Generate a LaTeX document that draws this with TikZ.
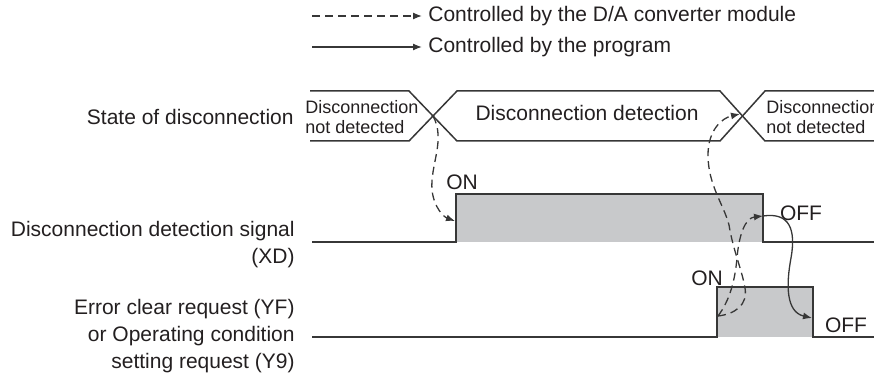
\documentclass[tikz,border=0pt]{standalone}
\usepackage{fontspec}
\setmainfont{Liberation Sans}
\usetikzlibrary{arrows.meta}
\definecolor{tcink}{RGB}{35,31,32}
\definecolor{tcline}{RGB}{55,55,55}
\definecolor{tcfill}{RGB}{200,201,203}

\begin{document}
\begin{tikzpicture}[x=.5pt,y=-.5pt,>={Latex[length=4.5pt,width=3.5pt]},
    font=\fontsize{10.5}{13.5}\selectfont,text=tcink,
    wave/.style={draw=tcline,line width=.75pt},
    bylink/.style={->,tcline,line width=.65pt,dash pattern=on 4pt off 2.5pt},
    byprog/.style={->,tcline,line width=.65pt},
    txt/.style={inner sep=0pt},
    small/.style={font=\fontsize{9}{10}\selectfont,align=left,anchor=west,inner sep=0pt}]
  \useasboundingbox (0,0) rectangle (874,374);
  % legend
  \coordinate (lgdA) at (312,16);
  \coordinate (lgdB) at (312,47);
  \node[txt,anchor=west] (lgdatext) at (428,16) {Controlled by the D/A converter module};
  \node[txt,anchor=west] (lgdbtext) at (428,47) {Controlled by the program};
  \draw[bylink,shorten >=3pt] (lgdA) -- (lgdatext.west);
  \draw[byprog,shorten >=3pt] (lgdB) -- (lgdbtext.west);
  % state of disconnection
  \draw[wave] (310,91) -- (409,91) -- (457,141) -- (720,141) -- (765,91) -- (880,91);
  \draw[wave] (310,141) -- (409,141) -- (457,91) -- (720,91) -- (765,141) -- (880,141);
  \coordinate (cross1) at (433,116);
  \coordinate (cross2) at (740,114);
  \node[txt,anchor=east] (statelbl) at (294,117) {State of disconnection};
  \node[small] (notdetA) at (305,117) {Disconnection\\not detected};
  \node[txt] (detect) at (587,113) {Disconnection detection};
  \node[small] (notdetB) at (766,117) {Disconnection\\not detected};
  % XD
  \fill[tcfill] (456,194) rectangle (763,242);
  \draw[wave] (312,242) -- (456,242) -- (456,194) -- (763,194) -- (763,242) -- (880,242);
  \node[txt,anchor=east,align=right] (xdlbl) at (295,245) {Disconnection detection signal\\(XD)};
  \node[txt] (xdon) at (462,182) {ON};
  \node[txt] (xdoff) at (801,213) {OFF};
  \coordinate (xdrise) at (455,221);
  \coordinate (xdfall) at (763,216);
  % YF / Y9
  \fill[tcfill] (717,287) rectangle (813,337);
  \draw[wave] (312,337) -- (717,337) -- (717,287) -- (813,287) -- (813,337) -- (880,337);
  \node[txt,anchor=east,align=right] (yflbl) at (295,336) {Error clear request (YF)\\or Operating condition\\setting request (Y9)};
  \node[txt] (yfon) at (707,278) {ON};
  \node[txt] (yfoff) at (846,325) {OFF};
  \coordinate (yfrise) at (718,316);
  \coordinate (yffall) at (812,318);
  % links
  \draw[bylink] (cross1) .. controls (446,140) and (430,165) .. (432,190)
    .. controls (434,208) and (444,217) .. (xdrise);
  \draw[bylink] (yfrise) .. controls (735,314) and (748,305) .. (745,288)
    .. controls (742,270) and (733,250) .. (729,225)
    .. controls (724,205) and (708,185) .. (708,155)
    .. controls (708,130) and (722,118) .. (cross2);
  \draw[bylink] (yfrise) .. controls (730,300) and (735,280) .. (737,258)
    .. controls (739,235) and (745,218) .. (xdfall);
  \draw[byprog] (xdfall) .. controls (790,212) and (796,230) .. (791,258)
    .. controls (786,285) and (786,312) .. (yffall);
\end{tikzpicture}
\end{document}
